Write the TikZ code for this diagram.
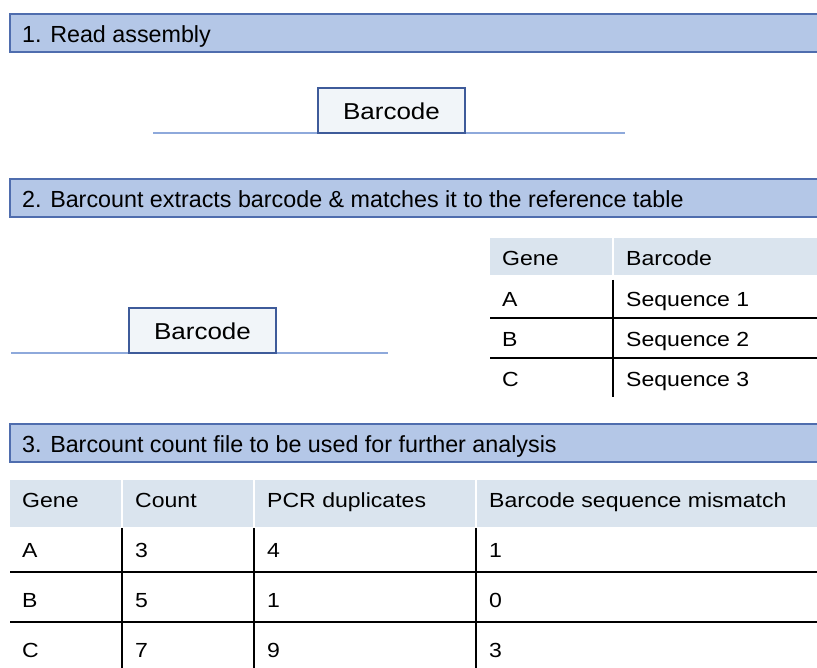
\documentclass[tikz,border=0pt]{standalone}
\usepackage{fontspec}
\setmainfont{Liberation Sans}
\definecolor{barfill}{HTML}{B4C7E7}
\definecolor{barline}{HTML}{4F6DAE}
\definecolor{boxfill}{HTML}{F1F5F9}
\definecolor{boxline}{HTML}{3E5B9A}
\definecolor{readline}{HTML}{8EA9DB}
\definecolor{thfill}{HTML}{DAE4EE}
\newcommand{\wide}[1]{\scalebox{1.13}[1]{#1}}
\tikzset{
  hdrtext/.style={anchor=base west, inner sep=0pt, font=\fontsize{23.3}{26}\selectfont},
  celltext/.style={anchor=base west, inner sep=0pt, font=\fontsize{20.4}{24}\selectfont},
  bctext/.style={anchor=base, inner sep=0pt, font=\fontsize{23}{26}\selectfont},
  bar/.style={fill=barfill, draw=barline, line width=1.2pt},
  bcbox/.style={fill=boxfill, draw=boxline, line width=1.5pt},
  readln/.style={draw=readline, line width=1.5pt},
  thcell/.style={fill=thfill, draw=none},
  rule/.style={draw=black, line width=1.7pt}
}
\begin{document}
\begin{tikzpicture}[x=1pt, y=-1pt]
\useasboundingbox (0,0) rectangle (817,668);

% section bars
\draw[bar] (10,14) rectangle (830,52);
\node[hdrtext] (h1) at (22,42.3) {1. Read assembly};
\draw[bar] (10,179) rectangle (830,217);
\node[hdrtext] (h2) at (22,207.3) {2. Barcount extracts barcode \& matches it to the reference table};
\draw[bar] (10,424) rectangle (830,462);
\node[hdrtext] (h3) at (22,452.3) {3. Barcount count file to be used for further analysis};

% step 1: read with barcode
\coordinate (r1a) at (153,133);
\coordinate (r1b) at (625,133);
\draw[readln] (r1a) -- (r1b);
\draw[bcbox] (318,88) rectangle (465,133);
\node[bctext] (bc1) at (391.5,120) {\wide{Barcode}};

% step 2: read with barcode
\coordinate (r2a) at (11,353);
\coordinate (r2b) at (388,353);
\draw[readln] (r2a) -- (r2b);
\draw[bcbox] (129,308) rectangle (276,353);
\node[bctext] (bc2) at (202.5,340) {\wide{Barcode}};

% step 2: reference table
\fill[thcell] (490,238) rectangle (612,275);
\fill[thcell] (614,238) rectangle (830,275);
\draw[rule] (490,318) -- (830,318);
\draw[rule] (490,358) -- (830,358);
\draw[rule] (613,280) -- (613,397);
\node[celltext] (t2g) at (502,265.5) {\wide{Gene}};
\node[celltext] (t2b) at (626,265.5) {\wide{Barcode}};
\node[celltext] (t2a1) at (502,306.7) {\wide{A}};
\node[celltext] (t2a2) at (626,306.7) {\wide{Sequence 1}};
\node[celltext] (t2b1) at (502,346.7) {\wide{B}};
\node[celltext] (t2b2) at (626,346.7) {\wide{Sequence 2}};
\node[celltext] (t2c1) at (502,386.7) {\wide{C}};
\node[celltext] (t2c2) at (626,386.7) {\wide{Sequence 3}};

% step 3: count table
\fill[thcell] (10,480) rectangle (121,527);
\fill[thcell] (123,480) rectangle (253,527);
\fill[thcell] (255,480) rectangle (475,527);
\fill[thcell] (477,480) rectangle (830,527);
\draw[rule] (10,572) -- (830,572);
\draw[rule] (10,622) -- (830,622);
\draw[rule] (122,528) -- (122,670);
\draw[rule] (254,528) -- (254,670);
\draw[rule] (476,528) -- (476,670);
\node[celltext] (c11) at (22,507) {\wide{Gene}};
\node[celltext] (c12) at (135,507) {\wide{Count}};
\node[celltext] (c13) at (267,507) {\wide{PCR duplicates}};
\node[celltext] (c14) at (489,507) {\wide{Barcode sequence mismatch}};
\node[celltext] (c21) at (22,557.3) {\wide{A}};
\node[celltext] (c22) at (135,557.3) {\wide{3}};
\node[celltext] (c23) at (267,557.3) {\wide{4}};
\node[celltext] (c24) at (489,557.3) {\wide{1}};
\node[celltext] (c31) at (22,607.3) {\wide{B}};
\node[celltext] (c32) at (135,607.3) {\wide{5}};
\node[celltext] (c33) at (267,607.3) {\wide{1}};
\node[celltext] (c34) at (489,607.3) {\wide{0}};
\node[celltext] (c41) at (22,657) {\wide{C}};
\node[celltext] (c42) at (135,657) {\wide{7}};
\node[celltext] (c43) at (267,657) {\wide{9}};
\node[celltext] (c44) at (489,657) {\wide{3}};
\end{tikzpicture}
\end{document}
